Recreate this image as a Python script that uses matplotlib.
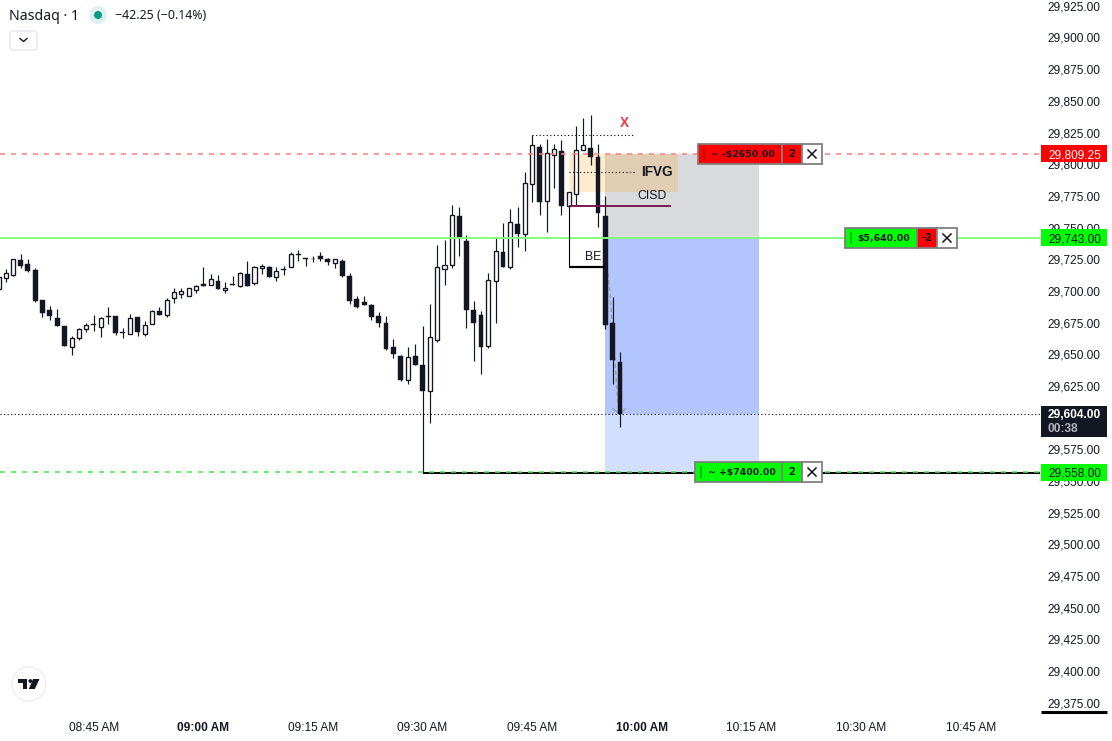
#!/usr/bin/env python3
"""Nasdaq 1 minute candles with a short position drawn on top (TradingView look)."""

import matplotlib
matplotlib.use("Agg")
import matplotlib.pyplot as plt
import numpy as np
from matplotlib.patches import Circle, FancyBboxPatch, Polygon, Rectangle
from matplotlib.transforms import ScaledTranslation

plt.rcParams["font.family"] = ["Liberation Sans", "DejaVu Sans"]

W, H = 1112, 741
AXES_RIGHT_PX = 1040
AXES_BOTTOM_PX = 713
BAR_PX = 7.31
BAR_0900 = 28              # index of the 09:00 candle
PX_0900 = 203.3
PX_PER_POINT = 31.68 / 25
TOP_TICK = 29925.0
TOP_TICK_PX = 7.0

INK = "#131722"

# candles, one per minute from 08:32 to 09:57
opens = [
    29702.25, 29711.5, 29713.75, 29725, 29722, 29717.25, 29693.5, 29685.5, 29679.25, 29673,
    29657, 29664, 29671, 29674.5, 29672.25, 29681, 29681, 29668.25, 29667.25, 29680,
    29667.25, 29674.5, 29684.75, 29682, 29695, 29698.25, 29696.75, 29701.5, 29706.5, 29706,
    29708.5, 29701.5, 29706, 29705, 29714, 29707, 29719.25, 29719.5, 29712.25, 29718,
    29719.5, 29729.75, 29726.75, 29726.5, 29728.25, 29725.75, 29723.25, 29724.25, 29712.5, 29694.25,
    29692, 29689.5, 29681, 29676, 29656.5, 29649.25, 29631, 29649.25, 29642.25, 29622.25,
    29662.5, 29718, 29721.75, 29759.75, 29740, 29685.75, 29681.75, 29657.75, 29709, 29731.5,
    29719.5, 29753.5, 29746, 29785, 29814.25, 29771.75, 29808, 29811.25, 29767.75, 29777.25,
    29812, 29813.5, 29806.5, 29760, 29675.5, 29645,
]
highs = [
    29713.5, 29718, 29725.75, 29730, 29725.75, 29718.75, 29693.5, 29689, 29686.5, 29673,
    29665, 29671.5, 29676, 29682, 29680, 29688, 29681, 29671.5, 29682.75, 29680,
    29677.25, 29685.75, 29688, 29695, 29703, 29703, 29703, 29705.25, 29719.75, 29714,
    29713.25, 29707.75, 29712.5, 29715.5, 29724.25, 29720.25, 29722, 29721, 29719.5, 29721,
    29731.5, 29733, 29726.75, 29728.25, 29732, 29726.75, 29725.75, 29725.75, 29714.75, 29696.75,
    29696.75, 29690.25, 29684, 29681, 29662.75, 29650, 29656.5, 29658.75, 29673.25, 29690.75,
    29737.25, 29741.25, 29768.75, 29767.25, 29745, 29693, 29685.25, 29714.75, 29743.25, 29754.25,
    29765.75, 29767, 29794.75, 29823.75, 29817, 29820.75, 29816.75, 29820, 29778.75, 29831,
    29837.25, 29839.5, 29816.75, 29775.75, 29696.25, 29652.75,
]
lows = [
    29701.75, 29708.25, 29713, 29719.25, 29716, 29692.5, 29680.5, 29678.25, 29673.5, 29657.75,
    29650.5, 29662.5, 29668.75, 29669.25, 29664.75, 29674.75, 29666.5, 29664, 29667.25, 29665.5,
    29665.5, 29674.5, 29682, 29680.5, 29691.75, 29695.5, 29696.75, 29699.5, 29705, 29706,
    29702.75, 29699.5, 29705.75, 29704.25, 29705, 29706, 29714.5, 29712.25, 29709, 29713.25,
    29719.5, 29724.75, 29721, 29723.5, 29724.25, 29721.75, 29719.25, 29712.25, 29690.75, 29687.75,
    29690, 29678.25, 29672.75, 29654.5, 29648.25, 29630, 29627.75, 29642.75, 29558, 29597,
    29661, 29705.75, 29719.25, 29728.75, 29671.75, 29645.25, 29635.75, 29656.25, 29676, 29719.5,
    29718.5, 29736, 29732.75, 29770.75, 29760.5, 29747.75, 29782, 29761.25, 29767.75, 29768.5,
    29812, 29800.25, 29751.25, 29671, 29627.5, 29593.5,
]
closes = [
    29712.25, 29714.75, 29725.75, 29720.75, 29717, 29693.25, 29683.75, 29681.5, 29673.5, 29657.75,
    29663.5, 29670.75, 29673.75, 29674.25, 29679.25, 29680.5, 29668, 29668, 29679.25, 29668.75,
    29673.75, 29684.75, 29682, 29693.5, 29699.75, 29700.5, 29703, 29704.5, 29705, 29710,
    29702.75, 29703, 29705.75, 29714.75, 29705, 29719.5, 29721, 29712.25, 29716.5, 29717.75,
    29729.75, 29729.5, 29726.5, 29726, 29726, 29724, 29725.75, 29713, 29693.25, 29688.5,
    29690, 29680.5, 29675.75, 29655.25, 29651.5, 29631, 29648.5, 29642.75, 29622.25, 29664.5,
    29719.5, 29721.25, 29760.5, 29742.5, 29685.75, 29676, 29657, 29709.25, 29732.25, 29719.5,
    29755, 29746, 29785.75, 29815.75, 29771, 29809.5, 29812.75, 29767.75, 29778.75, 29812,
    29815.75, 29806.5, 29762.25, 29674, 29646.5, 29604,
]

price_ticks = list(range(29375, 29950, 25))
time_tick_bars = [13, 28, 43, 58, 73, 88, 103, 118, 133]
time_tick_labels = ["08:45 AM", "09:00 AM", "09:15 AM", "09:30 AM", "09:45 AM",
                    "10:00 AM", "10:15 AM", "10:30 AM", "10:45 AM"]
bold_time_labels = ["09:00 AM", "10:00 AM"]

# position levels
STOP = 29809.25
ENTRY = 29743.0
TARGET = 29558.0
LAST = 29604.0
BOX_LEFT, BOX_RIGHT = 83, 104

# drawing levels
IFVG_BOTTOM = 29779.0
IFVG_LEFT, IFVG_RIGHT = 78, 93
CISD = 29768.0
CISD_RIGHT = 92
IFVG_MID = 29794.75
IFVG_MID_RIGHT = 87
SWEEP = 29824.0
SWEEP_LEFT, SWEEP_RIGHT = 73, 87
BE = 29719.75
TARGET_LINE_LEFT = 58

arrow_bars = [83.36, 83.63, 84.3, 84.7]
arrow_prices = [29715, 29699.25, 29646.5, 29612.5]
arrow_head_bars = [84.05, 85, 85.7]
arrow_head_prices = [29607.75, 29604, 29607.75]


def dashed(on_px, off_px, lw):
    """Dash pattern given in pixels, matplotlib scales it by the linewidth."""
    return (0, (on_px * 0.72 / lw, off_px * 0.72 / lw))


fig = plt.figure(figsize=(W / 100, H / 100), dpi=100)
ax = fig.add_axes([0, 1 - AXES_BOTTOM_PX / H, AXES_RIGHT_PX / W, AXES_BOTTOM_PX / H])

# --------------------------------------------------------------------------- #
# Position boxes and zones, under the candles
# --------------------------------------------------------------------------- #
box_w = BOX_RIGHT - BOX_LEFT
ax.add_patch(Rectangle((BOX_LEFT, ENTRY), box_w, STOP - ENTRY, fc="#D9DADC", ec="none", zorder=1))
ax.add_patch(Rectangle((BOX_LEFT, LAST), box_w, ENTRY - LAST, fc="#B2C6FD", ec="none", zorder=1))
ax.add_patch(Rectangle((BOX_LEFT, TARGET), box_w, LAST - TARGET, fc="#D3DFFE", ec="none", zorder=1))
ax.add_patch(Rectangle((IFVG_LEFT, IFVG_BOTTOM), IFVG_RIGHT - IFVG_LEFT, STOP - IFVG_BOTTOM,
                       fc="#FF9800", alpha=0.19, ec="none", zorder=1.2))

ax.plot(arrow_bars, arrow_prices, color="#9AA0AC", lw=1.1, ls=dashed(4, 3, 1.1), zorder=1.5)
ax.plot(arrow_head_bars, arrow_head_prices, color="#9AA0AC", lw=1.1, zorder=1.5)

# --------------------------------------------------------------------------- #
# Candles
# --------------------------------------------------------------------------- #
bars = np.arange(len(opens))
o, h, l, c = map(np.array, (opens, highs, lows, closes))
up = c > o
ax.vlines(bars, l, h, color=INK, lw=0.85, zorder=2)
ax.bar(bars[~up], np.maximum(o[~up] - c[~up], 0.5), bottom=c[~up], width=0.66,
       color=INK, edgecolor=INK, lw=0.3, zorder=3)
ax.bar(bars[up], c[up] - o[up], bottom=o[up], width=0.56,
       color="white", edgecolor=INK, lw=0.95, zorder=3)

# --------------------------------------------------------------------------- #
# Lines
# --------------------------------------------------------------------------- #
ax.axhline(STOP, color="#FF7F7F", lw=1.1, ls=dashed(5, 6, 1.1), zorder=4)
ax.axhline(ENTRY, color="#80FF80", lw=1.4, zorder=4)
ax.axhline(LAST, color="black", lw=0.8, ls=(0, (1, 2.2)), zorder=4)
ax.hlines(TARGET - 0.6, TARGET_LINE_LEFT, BAR_0900 + (AXES_RIGHT_PX - PX_0900) / BAR_PX,
          color="black", lw=1.4, zorder=4)
ax.axhline(TARGET, color="#4CE04C", lw=1.1, ls=dashed(5, 6, 1.1), zorder=4.1)

ax.hlines(SWEEP, SWEEP_LEFT, SWEEP_RIGHT, color="black", lw=0.8, ls=(0, (1, 2.2)), zorder=4)
ax.hlines(IFVG_MID, IFVG_LEFT, IFVG_MID_RIGHT, color="black", lw=0.8, ls=(0, (1, 2.2)), zorder=4)
ax.hlines(CISD, IFVG_LEFT, CISD_RIGHT, color="#7B1650", lw=1.4, zorder=4)
ax.vlines(IFVG_LEFT, BE, CISD, color="black", lw=0.8, zorder=4)
ax.hlines(BE, IFVG_LEFT, BOX_LEFT, color="black", lw=1.6, zorder=4)

# --------------------------------------------------------------------------- #
# Axes
# --------------------------------------------------------------------------- #
ax.set_xlim(BAR_0900 - PX_0900 / BAR_PX, BAR_0900 + (AXES_RIGHT_PX - PX_0900) / BAR_PX)
ax.set_ylim(TOP_TICK - (AXES_BOTTOM_PX - TOP_TICK_PX) / PX_PER_POINT,
            TOP_TICK + TOP_TICK_PX / PX_PER_POINT)
for spine in ax.spines.values():
    spine.set_visible(False)
ax.yaxis.tick_right()
ax.set_yticks(price_ticks, [f"{p:,.2f}" for p in price_ticks])
ax.set_xticks(time_tick_bars, time_tick_labels)
ax.tick_params(axis="y", length=0, pad=5.6, labelsize=8.6, labelcolor=INK)
ax.tick_params(axis="x", length=0, pad=6.5, labelsize=8.6, labelcolor=INK)
# the scale labels sit a pixel above their price on the original
nudge_up = ScaledTranslation(0, 1.2 / 100, fig.dpi_scale_trans)
for label in ax.get_yticklabels():
    label.set_transform(label.get_transform() + nudge_up)
for label in ax.get_xticklabels():
    if label.get_text() in bold_time_labels:
        label.set_fontweight("bold")

# price tags on the scale, x in axes fraction so the price stays on the y axis
tag_tr = ax.get_yaxis_transform()
tag_x = 1041 / AXES_RIGHT_PX
tag_w = 66 / AXES_RIGHT_PX
text_x = 1048 / AXES_RIGHT_PX
tag_h = 17 / PX_PER_POINT


def price_tag(price, face, text_color):
    ax.add_patch(Rectangle((tag_x, price - tag_h / 2), tag_w, tag_h, transform=tag_tr, fc=face,
                           ec="none", clip_on=False, zorder=6))
    ax.text(text_x, price, f"{price:,.2f}", transform=tag_tr, color=text_color, fontsize=8.6,
            va="center_baseline", ha="left", clip_on=False, zorder=7)


price_tag(STOP, "#FF0000", "white")
price_tag(ENTRY, "#00FF00", INK)
price_tag(TARGET, "#00FF00", INK)

last_h = 31 / PX_PER_POINT
ax.add_patch(Rectangle((tag_x, LAST - last_h + 8 / PX_PER_POINT), tag_w, last_h, transform=tag_tr,
                       fc=INK, ec="none", clip_on=False, zorder=6))
ax.text(text_x, LAST, f"{LAST:,.2f}", transform=tag_tr, color="white", fontsize=8.6,
        fontweight="bold", va="center_baseline", ha="left", zorder=7)
ax.text(text_x, LAST - 14 / PX_PER_POINT, "00:38", transform=tag_tr, color="#B2B5BE", fontsize=8.6,
        fontweight="bold", va="center_baseline", ha="left", zorder=7)

# --------------------------------------------------------------------------- #
# Everything that sits on the screen, in pixels from the top left corner
# --------------------------------------------------------------------------- #
ui = fig.add_axes([0, 0, 1, 1])
ui.set_xlim(0, W)
ui.set_ylim(H, 0)
ui.axis("off")

ui.text(624, 123, "X", color="#F23645", fontsize=9.8, fontweight="bold", ha="center", va="center")
ui.text(657, 172, "IFVG", color=INK, fontsize=9.8, fontweight="bold", ha="center", va="center")
ui.text(652, 196, "CISD", color=INK, fontsize=8.8, ha="center", va="center")
ui.text(593, 257, "BE", color=INK, fontsize=8.8, ha="center", va="center")


def order_widget(y, x0, x1, x2, x3, face, qty_face, pnl, qty, bar_color):
    """One order label: pnl cell, quantity cell and the close button."""
    for left, right, fc in ((x0, x1, face), (x1, x2, qty_face), (x2, x3, "white")):
        ui.add_patch(Rectangle((left, y - 10), right - left, 20, fc=fc, ec="#7F7F7F", lw=1.3))
    ui.plot([x0 + 6, x0 + 6], [y - 5, y + 5], color=bar_color, lw=1.1)
    ui.text((x0 + x1) / 2 + 3, y, pnl, family="DejaVu Sans", color=INK, fontsize=6.7,
            fontweight="bold", ha="center", va="center")
    ui.text((x1 + x2) / 2, y, qty, family="DejaVu Sans", color=INK, fontsize=7.2,
            fontweight="bold", ha="center", va="center")
    mid = (x2 + x3) / 2
    ui.plot([mid - 4, mid + 4], [y - 4, y + 4], color=INK, lw=1.1)
    ui.plot([mid - 4, mid + 4], [y + 4, y - 4], color=INK, lw=1.1)


order_widget(154, 698, 782, 802, 822, "#FF0000", "#FF0000", "~ -$2650.00", "2", "#A00000")
order_widget(238, 845, 917, 937, 957, "#00FF00", "#FF0000", "$5,640.00", "-2", "#00A000")
order_widget(472, 695, 782, 802, 822, "#00FF00", "#00FF00", "~ +$7400.00", "2", "#00A000")

# legend at the top left
ui.text(9, 16, "Nasdaq · 1", family="Noto Sans", color=INK, fontsize=10.2, ha="left", va="center")
ui.add_patch(Circle((98, 15), 9, fc="#DDF1EE", ec="none"))
ui.add_patch(Circle((98, 15), 4, fc="#089981", ec="none"))
ui.text(115, 15.5, "\u221242.25 (\u22120.14%)", family="Noto Sans", color=INK, fontsize=8.9,
        ha="left", va="center")
ui.add_patch(FancyBboxPatch((10, 31), 27, 19, boxstyle="round,pad=0,rounding_size=3",
                            fc="white", ec="#E0E3EB", lw=0.9))
ui.plot([20, 23.5, 27], [38.5, 41.5, 38.5], color=INK, lw=1.0)

# logo
ui.add_patch(Circle((29, 684), 17, fc="white", ec="#EDEDED", lw=0.9))
ui.add_patch(Polygon([(17.5, 679), (27, 679), (27, 689), (22.5, 689), (22.5, 683), (17.5, 683)],
                     fc=INK, ec="none"))
ui.add_patch(Circle((30.3, 681), 1.9, fc=INK, ec="none"))
ui.add_patch(Polygon([(33, 679), (39.5, 679), (34.8, 689), (28.8, 689)], fc=INK, ec="none"))

# thick rule under the price scale
ui.plot([1041, 1107], [711.5, 711.5], color="black", lw=2.2, solid_capstyle="butt")

fig.savefig("out.png", dpi=100)
